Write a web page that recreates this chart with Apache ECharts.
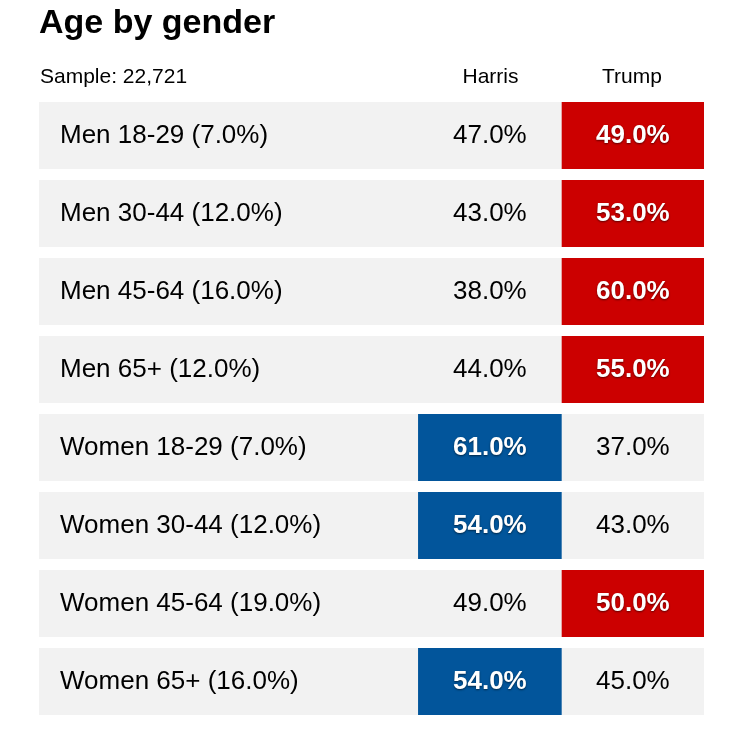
<!DOCTYPE html>
<html>
<head>
<meta charset="utf-8">
<script src="https://cdn.jsdelivr.net/npm/echarts@6/dist/echarts.min.js"></script>
<style>
  html, body { margin: 0; padding: 0; background: #fff; }
  #container { width: 739px; height: 742px; }
</style>
</head>
<body>
<div id="container"></div>
<script>
var dom = document.getElementById("container");
var myChart = echarts.init(dom);
var option;

// rows of the table
var groups = [
  "Men 18-29 (7.0%)",
  "Men 30-44 (12.0%)",
  "Men 45-64 (16.0%)",
  "Men 65+ (12.0%)",
  "Women 18-29 (7.0%)",
  "Women 30-44 (12.0%)",
  "Women 45-64 (19.0%)",
  "Women 65+ (16.0%)"
];
var harris = [47, 43, 38, 44, 61, 54, 49, 54];
var trump = [49, 53, 60, 55, 37, 43, 50, 45];
var candidates = ["Harris", "Trump"];
var titleText = "Age by gender";
var sampleText = "Sample: 22,721";

var FONT = "Liberation Sans, Arial, Helvetica, sans-serif";
var BLUE = "#02559b";
var RED = "#cc0000";

var data = groups.map(function (g, i) {
  return [i, harris[i], trump[i]];
});

function renderRow(params, api) {
  var idx = api.value(0);
  var h = api.value(1);
  var t = api.value(2);
  var cs = params.coordSys;
  var yc = api.coord([0, idx])[1];
  var band = api.size([0, 1])[1];
  var rowH = band * 67 / 78;
  var top = yc - rowH / 2;
  var left = cs.x;
  var w = cs.width;
  // column edges, as fractions of the row width
  var hx0 = left + w * 0.570;
  var hx1 = left + w * 0.786;
  var tx1 = left + w;
  var harrisWins = h > t;

  var children = [
    {
      type: "rect",
      shape: { x: left, y: top, width: w, height: rowH },
      style: { fill: "#f2f2f2" }
    },
    {
      type: "rect",
      shape: harrisWins
        ? { x: hx0, y: top, width: hx1 - hx0, height: rowH }
        : { x: hx1, y: top, width: tx1 - hx1, height: rowH },
      style: { fill: harrisWins ? BLUE : RED }
    },
    {
      type: "text",
      style: {
        x: left + 21, y: yc + 0.5, text: groups[idx],
        fill: "#000", font: "26px " + FONT,
        textAlign: "left", textVerticalAlign: "middle"
      }
    }
  ];

  [[h, (hx0 + hx1) / 2, harrisWins], [t, (hx1 + tx1) / 2, !harrisWins]].forEach(function (c) {
    var win = c[2];
    children.push({
      type: "text",
      style: {
        x: c[1], y: yc + 0.5, text: c[0].toFixed(1) + "%",
        fill: win ? "#fff" : "#000",
        font: (win ? "bold " : "") + "26px " + FONT,
        textAlign: "center", textVerticalAlign: "middle",
        textShadowColor: win ? "rgba(0,0,0,0.55)" : "transparent",
        textShadowBlur: win ? 2 : 0,
        textShadowOffsetY: win ? 1 : 0
      }
    });
  });

  return { type: "group", children: children };
}

function headText(txt, x, y, font, align) {
  return {
    type: "text", x: x, y: y,
    style: { text: txt, font: font, fill: "#000", textAlign: align, textVerticalAlign: "middle" }
  };
}

option = {
  animation: false,
  graphic: [
    headText(titleText, 39, 24, "bold 34px " + FONT, "left"),
    headText(sampleText, 40, 77, "21px " + FONT, "left"),
    headText(candidates[0], 490.5, 77, "21px " + FONT, "center"),
    headText(candidates[1], 632, 77, "21px " + FONT, "center")
  ],
  grid: { left: 39, right: 35, top: 96.5, bottom: 21.5 },
  xAxis: { type: "value", min: 0, max: 1, show: false },
  yAxis: { type: "category", data: groups, inverse: true, show: false },
  series: [
    {
      type: "custom",
      renderItem: renderRow,
      data: data,
      encode: { x: 1, y: 0 }
    }
  ]
};

myChart.setOption(option);
</script>
</body>
</html>
